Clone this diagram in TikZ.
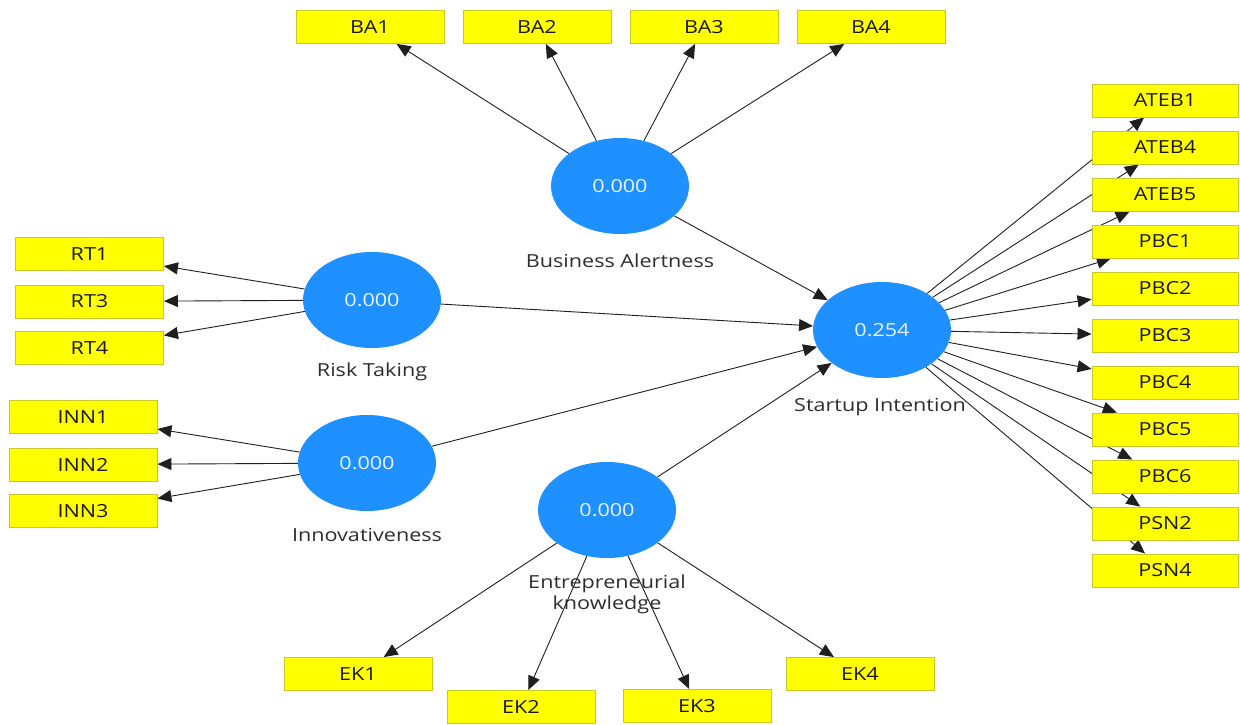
\documentclass[tikz,border=0pt]{standalone}
\usepackage{fontspec}
\setmainfont{Open Sans}[FakeStretch=1.2]
\usetikzlibrary{shapes.geometric,arrows.meta}
\definecolor{lvblue}{HTML}{1E90FF}
\definecolor{boxyellow}{HTML}{FFFF00}
\definecolor{boxedge}{HTML}{C8C828}
\pgfdeclarelayer{bg}
\pgfsetlayers{bg,main}
\begin{document}
\begin{tikzpicture}[x=1pt,y=-1pt,
  ind/.style={rectangle, draw=boxedge, fill=boxyellow, line width=0.9pt,
    minimum width=148pt, minimum height=33pt, inner sep=0pt,
    font=\fontsize{18}{18}\selectfont, text=black!90},
  lv/.style={ellipse, fill=lvblue, minimum width=138pt, minimum height=96pt,
    inner sep=0pt, text=white!90!lvblue, font=\fontsize{18}{18}\selectfont},
  lvlabel/.style={font=\fontsize{18}{21}\selectfont, text=black!82, align=center},
  conn/.style={-{Triangle[length=14pt,width=12pt]}, line width=0.9pt, draw=black!88}]
\useasboundingbox (0,0) rectangle (1240,725);

% latent variables
\node[lv] (BA)  at (620,186) {0.000};
\node[lv] (RT)  at (372,300) {0.000};
\node[lv] (INN) at (367,463) {0.000};
\node[lv] (EK)  at (607,510) {0.000};
\node[lv] (SI)  at (882,330) {0.254};

\node[lvlabel] (BAl)  at (620,261) {Business Alertness};
\node[lvlabel] (RTl)  at (372,372) {Risk Taking};
\node[lvlabel] (INNl) at (367,535) {Innovativeness};
\node[lvlabel] (EKl)  at (607,594) {Entrepreneurial\\knowledge};
\node[lvlabel] (SIl)  at (880,407) {Startup Intention};

% indicators
\node[ind] (BA1) at (370,27) {BA1};
\node[ind] (BA2) at (537,27) {BA2};
\node[ind] (BA3) at (704,27) {BA3};
\node[ind] (BA4) at (871,27) {BA4};

\node[ind] (RT1) at (89.5,254) {RT1};
\node[ind] (RT3) at (89.5,301.5) {RT3};
\node[ind] (RT4) at (89.5,348) {RT4};

\node[ind] (INN1) at (83,417) {INN1};
\node[ind] (INN2) at (83,464.5) {INN2};
\node[ind] (INN3) at (83,511) {INN3};

\node[ind] (EK1) at (358,674) {EK1};
\node[ind] (EK2) at (521,707) {EK2};
\node[ind] (EK3) at (697,706) {EK3};
\node[ind] (EK4) at (860,674) {EK4};

\node[ind, minimum width=146pt] (ATEB1) at (1165,100.5) {ATEB1};
\node[ind, minimum width=146pt] (ATEB4) at (1165,147.5) {ATEB4};
\node[ind, minimum width=146pt] (ATEB5) at (1165,194.5) {ATEB5};
\node[ind, minimum width=146pt] (PBC1) at (1165,241.5) {PBC1};
\node[ind, minimum width=146pt] (PBC2) at (1165,288.5) {PBC2};
\node[ind, minimum width=146pt] (PBC3) at (1165,335.5) {PBC3};
\node[ind, minimum width=146pt] (PBC4) at (1165,382.5) {PBC4};
\node[ind, minimum width=146pt] (PBC5) at (1165,429.5) {PBC5};
\node[ind, minimum width=146pt] (PBC6) at (1165,476.5) {PBC6};
\node[ind, minimum width=146pt] (PSN2) at (1165,523.5) {PSN2};
\node[ind, minimum width=146pt] (PSN4) at (1165,570.5) {PSN4};

\begin{pgfonlayer}{bg}
  \fill[white] (0,0) rectangle (1240,725);
  \foreach \t in {BA1,BA2,BA3,BA4} \draw[conn] (BA) -- (\t);
  \foreach \t in {RT1,RT3,RT4} \draw[conn] (RT) -- (\t);
  \foreach \t in {INN1,INN2,INN3} \draw[conn] (INN) -- (\t);
  \foreach \t in {EK1,EK2,EK3,EK4} \draw[conn] (EK) -- (\t);
  \foreach \t in {ATEB1,ATEB4,ATEB5,PBC1,PBC2,PBC3,PBC4,PBC5,PBC6,PSN2,PSN4}
    \draw[conn] (SI) -- (\t);
  \foreach \s in {BA,RT,INN,EK} \draw[conn] (\s) -- (SI);
\end{pgfonlayer}
\end{tikzpicture}
\end{document}
